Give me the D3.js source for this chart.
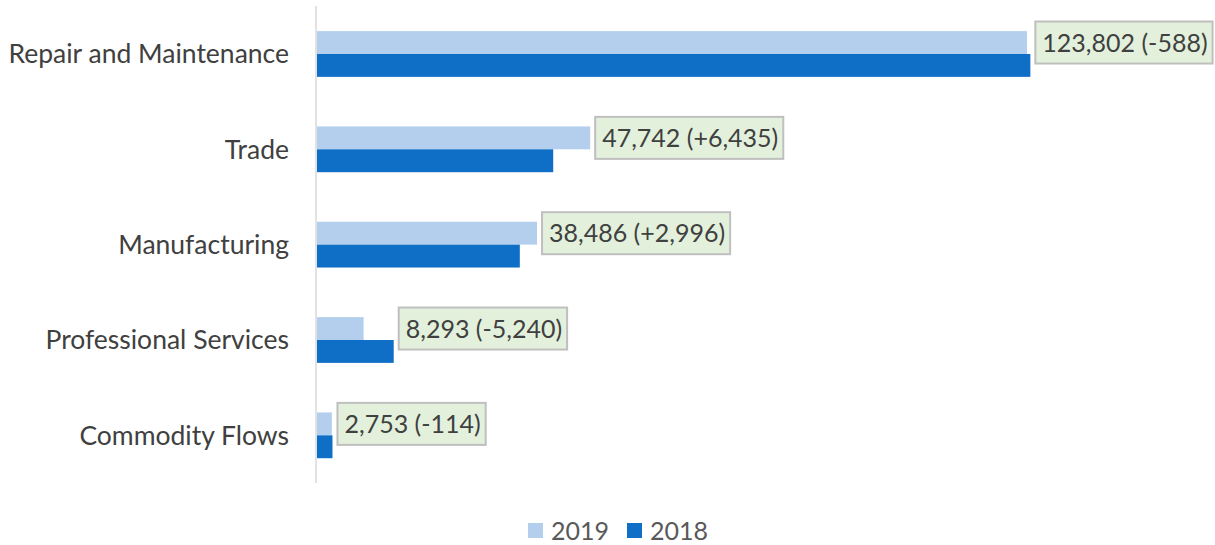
<!DOCTYPE html>
<html><head><meta charset="utf-8">
<script src="https://cdn.jsdelivr.net/npm/d3@7"></script>
<style>body{margin:0;background:#fff}svg{display:block}</style>
</head><body>
<svg id="c" width="1215" height="545"></svg>
<script>
const categories = ["Repair and Maintenance","Trade","Manufacturing","Professional Services","Commodity Flows"];
const series = ["2019","2018"];
const values2019 = [123802, 47742, 38486, 8293, 2753];
const values2018 = [124390, 41307, 35490, 13533, 2867];
const changes = [-588, 6435, 2996, -5240, -114];
const colors = ["#B4CFEE","#0F6FC6"];

const svg = d3.select("#c");
const font = "Lato, 'Liberation Sans', sans-serif";
const x = d3.scaleLinear().domain([0,140000]).range([316, 316+804]);
const y = d3.scaleBand().domain(categories).range([6.3,483]).paddingInner(0.52).paddingOuter(0.26);
const ys = d3.scaleBand().domain(series).range([0,y.bandwidth()]);
const data = categories.map((c,i)=>({c, v:[values2019[i],values2018[i]], ch:changes[i]}));

// axis line
svg.append("line").attr("x1",x(0)).attr("x2",x(0)).attr("y1",6).attr("y2",483)
  .attr("stroke","#d9d9d9").attr("stroke-width",1.5);

const g = svg.selectAll("g.cat").data(data).join("g").attr("class","cat")
  .attr("transform",d=>`translate(0,${y(d.c)})`);
g.selectAll("rect").data(d=>series.map((s,j)=>({s,v:d.v[j],j}))).join("rect")
  .attr("x",x(0)+1).attr("y",d=>ys(d.s)).attr("height",ys.bandwidth())
  .attr("width",d=>x(d.v)-x(0)-1).attr("fill",d=>colors[d.j]);

// category labels
svg.append("g").selectAll("text").data(categories).join("text")
  .attr("x",289).attr("y",d=>y(d)+y.bandwidth()/2).attr("dy","0.35em")
  .attr("text-anchor","end").attr("font-family",font).attr("font-size",26.5)
  .attr("fill","#404040").text(d=>d);

// data labels
const fmt = d3.format(",");
const lab = g.append("g");
lab.each(function(d){
  const gg = d3.select(this);
  const txt = `${fmt(d.v[0])} (${d.ch>=0?"+":"-"}${fmt(Math.abs(d.ch))})`;
  const bx = x(Math.max(d.v[0],d.v[1])) + 5;
  const cy = ys("2019") + ys.bandwidth()/2;
  const t = gg.append("text").attr("x",bx+7).attr("y",cy).attr("dy","0.36em")
    .attr("font-family",font).attr("font-size",25).attr("fill","#404040").text(txt);
  const w = t.node().getComputedTextLength();
  gg.insert("rect","text").attr("x",bx).attr("y",cy-21).attr("width",w+12).attr("height",42)
    .attr("fill","#E3F1DC").attr("stroke","#BFBFBF").attr("stroke-width",2);
});

// legend
const leg = svg.append("g");
const items = [{s:"2019",x:528},{s:"2018",x:627}];
items.forEach((it,i)=>{
  leg.append("rect").attr("x",it.x).attr("y",523).attr("width",15).attr("height",15).attr("fill",colors[i]);
  leg.append("text").attr("x",it.x+23).attr("y",530.5).attr("dy","0.36em")
    .attr("font-family",font).attr("font-size",25).attr("fill","#595959").text(it.s);
});
</script>
</body></html>
